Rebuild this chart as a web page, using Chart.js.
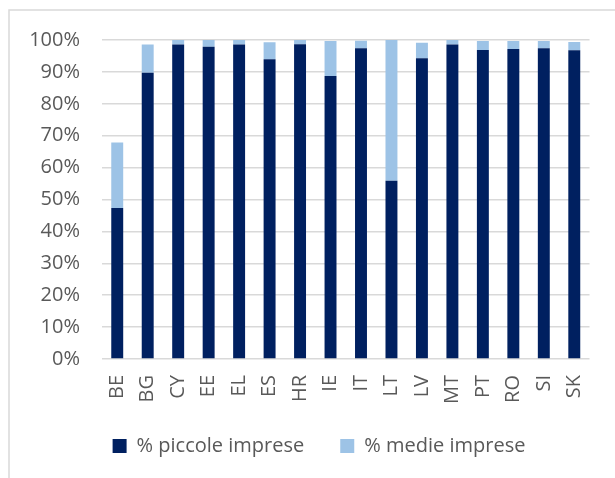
<!DOCTYPE html>
<html>
<head>
<meta charset="utf-8">
<script src="https://cdn.jsdelivr.net/npm/chart.js@4.4.1/dist/chart.umd.min.js"></script>
<style>
html,body{margin:0;padding:0;background:#fff;}
#wrap{position:relative;width:615px;height:478px;}
</style>
</head>
<body>
<div id="wrap"><canvas id="c" width="615" height="478"></canvas></div>
<script>
const categories = ["BE","BG","CY","EE","EL","ES","HR","IE","IT","LT","LV","MT","PT","RO","SI","SK"];
const piccole = [47.3, 89.7, 98.6, 97.9, 98.6, 94.0, 98.7, 88.7, 97.4, 55.9, 94.3, 98.6, 96.9, 97.2, 97.4, 96.8];
const medie   = [20.6,  8.9,  1.4,  2.1,  1.4,  5.3,  1.3, 11.0,  2.4, 44.1,  4.8,  1.4,  2.8,  2.5,  2.3,  2.6];
const seriesNames = ["% piccole imprese", "% medie imprese"];
const yTicks = [0,10,20,30,40,50,60,70,80,90,100];

const FONT = "'Open Sans', 'Liberation Sans', sans-serif";
const TEXT = "#595959";

const frame = {
  id: 'frame',
  beforeDraw(chart) {
    const ctx = chart.ctx;
    ctx.save();
    ctx.fillStyle = '#ffffff';
    ctx.fillRect(0, 0, chart.width, chart.height);
    ctx.strokeStyle = '#d9d9d9';
    ctx.lineWidth = 1.5;
    ctx.beginPath();
    ctx.moveTo(9, 478);
    ctx.lineTo(9, 10);
    ctx.lineTo(615, 10);
    ctx.stroke();
    ctx.restore();
  },
  afterLayout(chart) {
    chart.legend.left = 46;
    // let long rotated x labels extend below the axis box without clipping
    chart.scales.x.bottom = chart.height;
  }
};

new Chart(document.getElementById('c'), {
  type: 'bar',
  data: {
    labels: categories,
    datasets: [
      { label: seriesNames[0], data: piccole, backgroundColor: '#002060', categoryPercentage: 1, barPercentage: 0.392 },
      { label: seriesNames[1], data: medie, backgroundColor: '#9dc3e6', categoryPercentage: 1, barPercentage: 0.392 }
    ]
  },
  options: {
    responsive: false,
    animation: false,
    devicePixelRatio: 1,
    layout: { padding: { left: 0, right: 23, top: 40, bottom: 12 } },
    plugins: {
      tooltip: { enabled: false },
      legend: {
        position: 'bottom',
        labels: {
          color: TEXT,
          font: { family: FONT, size: 20 },
          boxWidth: 14, boxHeight: 14,
          padding: 36
        }
      }
    },
    scales: {
      x: {
        stacked: true,
        grid: { display: false, drawTicks: false },
        border: { display: false },
        ticks: { color: TEXT, font: { family: FONT, size: 20 }, minRotation: 90, maxRotation: 90, padding: 16, autoSkip: false },
        afterFit(s) { s.height = 41; }
      },
      y: {
        stacked: true,
        min: 0, max: 100,
        afterBuildTicks(s) { s.ticks = yTicks.map(v => ({ value: v })); },
        grid: { color: '#d9d9d9', lineWidth: 1.5, drawTicks: false },
        border: { display: false },
        ticks: { color: TEXT, font: { family: FONT, size: 20 }, padding: 22, callback: v => v + '%' },
        afterFit(s) { s.width = 102; }
      }
    }
  },
  plugins: [frame]
});
</script>
</body>
</html>
